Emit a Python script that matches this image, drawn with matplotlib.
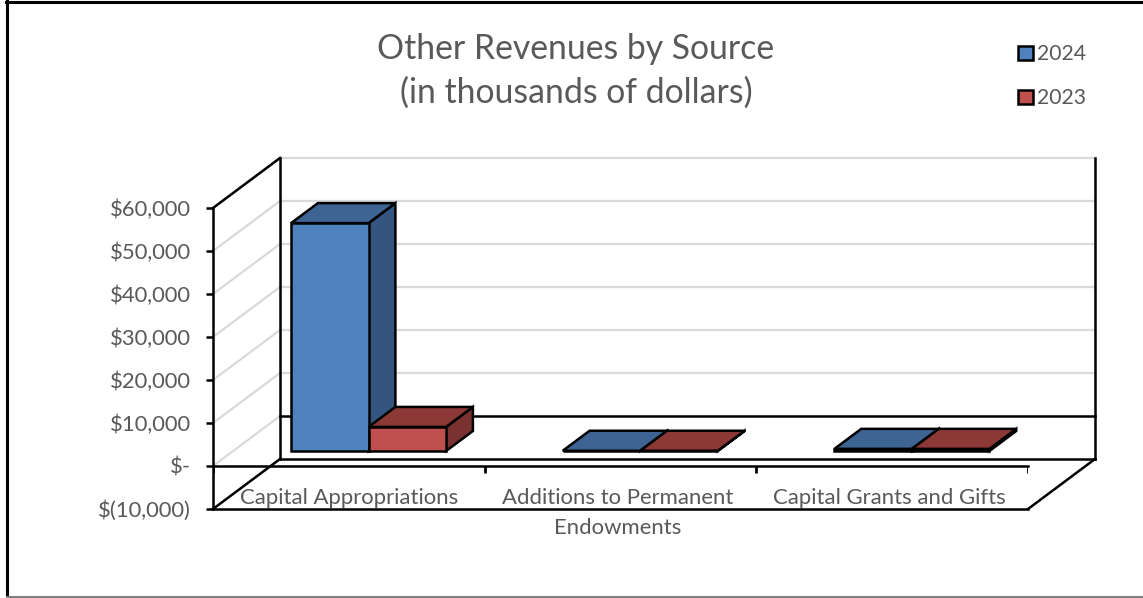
#Other revenues 3D style column chart
import matplotlib
matplotlib.use("Agg")
import matplotlib.pyplot as plt
from matplotlib.patches import Patch

plt.rcParams['font.family'] = ['Lato', 'DejaVu Sans']

categories = ["Capital Appropriations", "Additions to Permanent\nEndowments", "Capital Grants and Gifts"]
series_names = ["2024", "2023"]
values_2024 = [53000, 60, 500]
values_2023 = [5600, 60, 500]
y_ticks = [-10000, 0, 10000, 20000, 30000, 40000, 50000, 60000]
y_labels = ["$(10,000)", "$-", "$10,000", "$20,000", "$30,000", "$40,000", "$50,000", "$60,000"]

W, H = 1143, 598
# depth of the box, in category units and dollars
DX = 67 / (815 / 3)
DY = 50 / 43 * 10000
GREY = "#595959"
GRID = "#D9D9D9"

fig = plt.figure(figsize=(W / 100, H / 100), dpi=100)
ax = fig.add_axes([213 / W, (H - 509) / H, 815 / W, 301 / H])
ax.set_xlim(0, 3)
ax.set_ylim(-10000, 60000)
ax.patch.set_alpha(0)


def proj(x, y, d):
    return x + d * DX, y + d * DY


def seg(p, q, **kw):
    ax.plot([p[0], q[0]], [p[1], q[1]], clip_on=False, solid_capstyle="projecting", **kw)


def box(x0, x1, top, front, side, upper):
    d0, d1 = 0.3, 0.7
    faces = [
        ([proj(x1, 0, d0), proj(x1, 0, d1), proj(x1, top, d1), proj(x1, top, d0)], side),
        ([proj(x0, top, d0), proj(x1, top, d0), proj(x1, top, d1), proj(x0, top, d1)], upper),
        ([proj(x0, 0, d0), proj(x1, 0, d0), proj(x1, top, d0), proj(x0, top, d0)], front),
    ]
    for pts, col in faces:
        xs, ys = zip(*pts)
        ax.fill(xs, ys, facecolor=col, edgecolor="black", linewidth=1.8,
                joinstyle="miter", clip_on=False, zorder=3)


# gridlines on the back and side walls
for v in y_ticks[2:]:
    seg(proj(0, v, 0), proj(0, v, 1), color=GRID, lw=1.6, zorder=1)
    seg(proj(0, v, 1), proj(3, v, 1), color=GRID, lw=1.6, zorder=1)
seg(proj(0, 0, 0), proj(0, 0, 1), color=GRID, lw=1.6, zorder=1)

# box outline
line = dict(color="black", lw=1.8, zorder=2)
seg(proj(0, -10000, 1), proj(0, 60000, 1), **line)
seg(proj(3, -10000, 1), proj(3, 60000, 1), **line)
seg(proj(0, 60000, 0), proj(0, 60000, 1), **line)
seg(proj(0, 0, 1), proj(3, 0, 1), **line)
seg(proj(0, -10000, 1), proj(3, -10000, 1), **line)
seg(proj(0, -10000, 0), proj(0, -10000, 1), **line)
seg(proj(3, -10000, 0), proj(3, -10000, 1), **line)
seg(proj(0, 0, 0), proj(3, 0, 0), **line)
ax.vlines(range(4), -1600, 0, color="black", lw=2, zorder=2)

# columns, back to front and left to right
bar_w = 77.5 / (815 / 3)
margin = 58 / (815 / 3)
label_shift = [0, -0.01, -0.01]
for i in range(len(categories)):
    box(i + margin, i + margin + bar_w, values_2024[i], "#4F81BD", "#33557F", "#3E6494")
    box(i + margin + bar_w, i + margin + 2 * bar_w, values_2023[i], "#C0504D", "#7A3230", "#8C3836")
    ax.text(i + 0.5 + label_shift[i], -5000, categories[i], ha="center", va="top", fontsize=15.9,
            color=GREY, linespacing=1.63, zorder=4)

# axis furniture
for name in ["top", "right"]:
    ax.spines[name].set_visible(False)
for name in ["left", "bottom"]:
    ax.spines[name].set_linewidth(1.8)
ax.set_xticks([])
ax.set_yticks(y_ticks)
ax.set_yticklabels(y_labels, fontsize=15.8, color=GREY)
ax.tick_params(axis="y", length=5, width=1.8, pad=11)

fig.text(576 / W, 1 - 71 / H, "Other Revenues by Source\n(in thousands of dollars)",
         ha="center", va="center", fontsize=24.3, color=GREY, linespacing=1.47)

handles = [Patch(facecolor="#4F81BD", edgecolor="black", lw=1.8),
           Patch(facecolor="#C0504D", edgecolor="black", lw=1.8)]
fig.legend(handles, series_names, loc="upper left", bbox_to_anchor=(1012 / W, 1 - 38 / H),
           frameon=False, fontsize=15.2, labelcolor=GREY, handlelength=0.7, handleheight=0.7,
           handletextpad=0.2, labelspacing=1.14, borderpad=0.3, borderaxespad=0)

# outer frame
frame = fig.add_axes([0, 0, 1, 1], zorder=-1)
frame.set_xlim(0, W)
frame.set_ylim(H, 0)
frame.axis("off")
frame.plot([6, W], [2, 2], color="black", lw=2.2)
frame.plot([7, 7], [1, H], color="black", lw=2.2)
frame.plot([7, W], [597, 597], color="#808080", lw=1.5)

fig.savefig("out.png", dpi=100)
